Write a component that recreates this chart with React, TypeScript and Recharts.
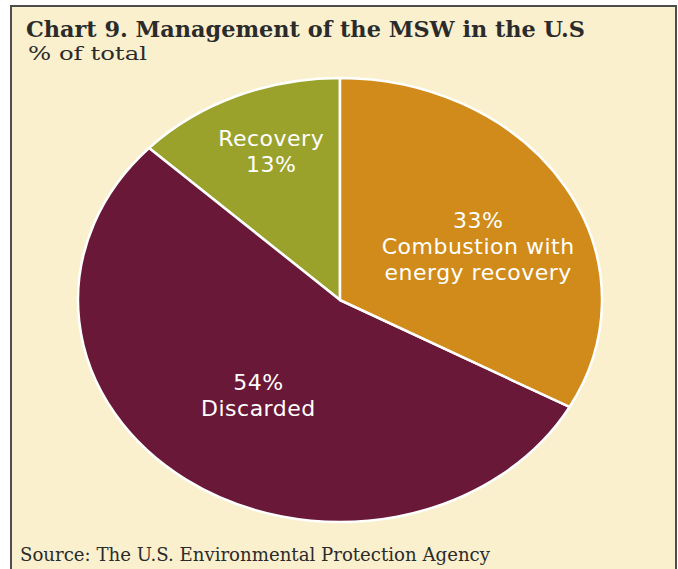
import React from "react";
import { PieChart, Pie, Cell } from "recharts";

const categories = ["Recovery", "Discarded", "Combustion with energy recovery"];
const shares = [13, 54, 33];
const labelLines = [["Recovery"], ["Discarded"], ["Combustion with", "energy recovery"]];
const percentFirst = [false, true, true];
const colors = ["#9aa22b", "#6a1837", "#d08b1a"];

const title = "Chart 9. Management of the MSW in the U.S";
const subtitle = "% of total";
const source = "Source: The U.S. Environmental Protection Agency";

const data = categories.map((name, i) => ({ name, value: shares[i] }));

// pie is stretched wide in the original
const STRETCH = 262 / 222;
const RAD = Math.PI / 180;

// where each label block sits, as a fraction of the radius plus an angle nudge
const labelSpots = [
  { f: 0.72, da: -2 },
  { f: 0.53, da: 0 },
  { f: 0.58, da: -6 },
];

function EllipseSector(props: any) {
  const { cx, cy, outerRadius, startAngle, endAngle, fill } = props;
  const rx = outerRadius * STRETCH;
  const ry = outerRadius;
  const pt = (a: number) => [cx + rx * Math.cos(a * RAD), cy - ry * Math.sin(a * RAD)];
  const [x1, y1] = pt(startAngle);
  const [x2, y2] = pt(endAngle);
  const large = Math.abs(endAngle - startAngle) > 180 ? 1 : 0;
  const d = `M${cx},${cy} L${x1},${y1} A${rx},${ry} 0 ${large} 0 ${x2},${y2} Z`;
  return <path d={d} fill={fill} stroke="#ffffff" strokeWidth={2.5} strokeLinejoin="round" />;
}

function renderLabel(props: any) {
  const { cx, cy, midAngle, outerRadius, index } = props;
  const spot = labelSpots[index];
  const a = (midAngle + spot.da) * RAD;
  const x = cx + outerRadius * STRETCH * spot.f * Math.cos(a);
  const y = cy - outerRadius * spot.f * Math.sin(a);
  const pct = `${shares[index]}%`;
  const lines = percentFirst[index] ? [pct, ...labelLines[index]] : [...labelLines[index], pct];
  const lh = 26;
  const top = y - ((lines.length - 1) * lh) / 2;
  return (
    <text
      x={x}
      y={top}
      fill="#ffffff"
      textAnchor="middle"
      dominantBaseline="central"
      fontFamily="'DejaVu Sans', Verdana, sans-serif"
      fontSize={22}
      letterSpacing={0.5}
    >
      {lines.map((l, i) => (
        <tspan key={i} x={x} y={top + i * lh}>
          {l}
        </tspan>
      ))}
    </text>
  );
}

export default function App() {
  return (
    <div style={{ position: "absolute", left: 0, top: 0, width: 678, height: 569, overflow: "hidden", background: "#ffffff" }}>
      <div
        style={{
          position: "absolute",
          left: 10,
          top: 5,
          width: 663,
          height: 600,
          border: "2px solid #4d4d4d",
          background: "#faf0cd",
        }}
      />
      <div style={{ position: "absolute", left: 0, top: 0 }}>
        <PieChart width={678} height={569} margin={{ top: 0, right: 0, bottom: 0, left: 0 }}>
          <Pie
            data={data}
            dataKey="value"
            nameKey="name"
            cx={340}
            cy={300}
            outerRadius={222}
            startAngle={90}
            endAngle={450}
            stroke="#ffffff"
            strokeWidth={2.5}
            shape={EllipseSector}
            label={renderLabel}
            labelLine={false}
            isAnimationActive={false}
          >
            {data.map((d, i) => (
              <Cell key={d.name} fill={colors[i]} />
            ))}
          </Pie>
        </PieChart>
      </div>
      <svg width={678} height={569} style={{ position: "absolute", left: 0, top: 0, pointerEvents: "none" }}>
        <text
          x={26}
          y={37}
          fontFamily="'DejaVu Serif', serif"
          fontWeight="bold"
          fontSize={23}
          fill="#2b2b2b"
          textLength={559}
          lengthAdjust="spacingAndGlyphs"
        >
          {title}
        </text>
        <text x={28} y={60} fontFamily="'DejaVu Serif', serif" fontSize={19} fill="#2b2b2b" textLength={119} lengthAdjust="spacingAndGlyphs">
          {subtitle}
        </text>
        <text x={20} y={561} fontFamily="'DejaVu Serif', serif" fontSize={18} fill="#2b2b2b" textLength={470} lengthAdjust="spacingAndGlyphs">
          {source}
        </text>
      </svg>
    </div>
  );
}
